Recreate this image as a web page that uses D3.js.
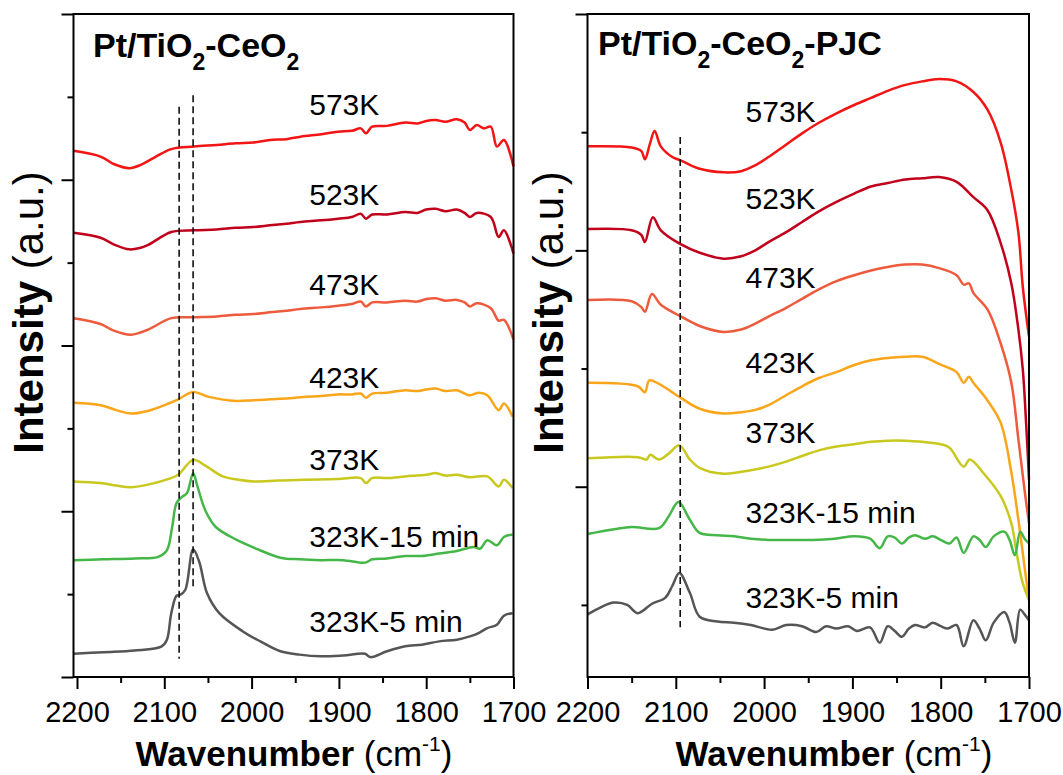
<!DOCTYPE html>
<html>
<head>
<meta charset="utf-8">
<script src="https://cdn.jsdelivr.net/npm/d3@7"></script>
<style>
  html, body { margin: 0; padding: 0; background: #fff; }
  svg { display: block; font-family: "Liberation Sans", Arial, sans-serif; }
</style>
</head>
<body>
<svg id="chart" width="1063" height="775"></svg>
<script>
// ---- Axis ticks -------------------------------------------------------
const wavenumberTicks = [2200, 2100, 2000, 1900, 1800, 1700];
const wavenumberMinorTicks = [2150, 2050, 1950, 1850, 1750];

// ---- Series -----------------------------------------------------------
const seriesNames = ["573K", "523K", "473K", "423K", "373K", "323K-15 min", "323K-5 min"];
const seriesColors = ["#f31414", "#c1001c", "#ee5a3c", "#fba51a", "#c8c81e", "#45b749", "#555555"];

// Pt/TiO2-CeO2 : [wavenumber (cm-1), intensity (a.u., stacked)]
const ptTiCe573 = [[2204,6.35],[2173,6.28],[2158,6.19],[2140,6.14],[2127,6.18],[2111,6.27],[2092,6.37],[2066,6.40],[2040,6.42],[2018,6.44],[1998,6.45],[1979,6.48],[1960,6.49],[1944,6.52],[1920,6.55],[1901,6.58],[1885,6.59],[1875,6.62],[1869,6.56],[1862,6.64],[1845,6.65],[1824,6.69],[1810,6.68],[1800,6.71],[1789,6.72],[1778,6.70],[1765,6.73],[1756,6.69],[1750,6.60],[1742,6.66],[1734,6.62],[1726,6.64],[1719,6.40],[1711,6.48],[1700,6.16]];
const ptTiCe523 = [[2204,5.36],[2173,5.30],[2158,5.22],[2140,5.16],[2127,5.18],[2119,5.21],[2092,5.37],[2066,5.39],[2040,5.40],[2018,5.42],[1998,5.43],[1979,5.45],[1960,5.47],[1944,5.49],[1920,5.51],[1901,5.53],[1885,5.55],[1875,5.59],[1869,5.53],[1862,5.58],[1845,5.58],[1824,5.61],[1810,5.60],[1800,5.64],[1789,5.65],[1778,5.62],[1765,5.64],[1756,5.60],[1750,5.55],[1742,5.60],[1726,5.55],[1717,5.31],[1711,5.39],[1700,5.11]];
const ptTiCe473 = [[2204,4.33],[2173,4.26],[2158,4.18],[2138,4.13],[2119,4.19],[2092,4.33],[2066,4.34],[2040,4.35],[2018,4.37],[1998,4.38],[1979,4.40],[1960,4.42],[1944,4.44],[1920,4.46],[1901,4.48],[1885,4.50],[1875,4.53],[1869,4.47],[1862,4.52],[1845,4.52],[1824,4.54],[1810,4.53],[1800,4.56],[1789,4.57],[1778,4.54],[1765,4.55],[1756,4.52],[1750,4.47],[1742,4.51],[1726,4.45],[1717,4.30],[1711,4.31],[1700,4.07]];
const ptTiCe423 = [[2204,3.31],[2173,3.28],[2155,3.22],[2138,3.18],[2119,3.21],[2095,3.30],[2084,3.35],[2067,3.44],[2049,3.38],[2018,3.33],[1998,3.34],[1979,3.35],[1960,3.36],[1940,3.38],[1920,3.39],[1901,3.41],[1885,3.41],[1875,3.42],[1869,3.37],[1862,3.42],[1845,3.43],[1824,3.46],[1810,3.45],[1800,3.47],[1789,3.48],[1778,3.45],[1765,3.46],[1750,3.40],[1740,3.43],[1730,3.40],[1717,3.22],[1711,3.30],[1701,3.14]];
const ptTiCe373 = [[2204,2.36],[2173,2.34],[2155,2.31],[2138,2.29],[2111,2.34],[2095,2.39],[2084,2.44],[2067,2.62],[2053,2.55],[2033,2.42],[2015,2.38],[1998,2.36],[1970,2.37],[1940,2.38],[1901,2.39],[1875,2.40],[1869,2.34],[1862,2.40],[1845,2.40],[1824,2.42],[1800,2.44],[1789,2.46],[1778,2.43],[1765,2.44],[1750,2.41],[1730,2.42],[1717,2.30],[1711,2.38],[1701,2.28]];
const ptTiCe323m15 = [[2204,1.41],[2170,1.42],[2134,1.43],[2107,1.45],[2097,1.53],[2091,1.81],[2086,2.10],[2080,2.17],[2074,2.22],[2067,2.46],[2062,2.30],[2053,2.01],[2041,1.81],[2018,1.66],[1995,1.55],[1967,1.44],[1945,1.42],[1921,1.41],[1895,1.41],[1870,1.38],[1862,1.42],[1845,1.43],[1824,1.46],[1805,1.46],[1785,1.49],[1765,1.52],[1746,1.57],[1738,1.55],[1730,1.65],[1719,1.59],[1711,1.69],[1701,1.72]];
const ptTiCe323m5 = [[2204,0.28],[2170,0.30],[2134,0.32],[2103,0.37],[2097,0.45],[2092,0.77],[2086,0.98],[2082,0.99],[2076,1.05],[2067,1.54],[2060,1.39],[2051,1.01],[2037,0.77],[2010,0.55],[1990,0.43],[1967,0.31],[1945,0.27],[1921,0.25],[1895,0.26],[1870,0.28],[1864,0.24],[1845,0.31],[1824,0.37],[1805,0.39],[1785,0.43],[1765,0.45],[1750,0.49],[1740,0.53],[1730,0.59],[1719,0.63],[1711,0.74],[1701,0.77]];

// Pt/TiO2-CeO2-PJC : [wavenumber (cm-1), intensity (a.u., stacked)]
const pjc573 = [[2200,3.88],[2150,3.87],[2139,3.84],[2135,3.77],[2129,3.91],[2124,4.01],[2117,3.88],[2104,3.79],[2094,3.76],[2073,3.69],[2046,3.66],[2026,3.67],[2010,3.72],[1995,3.79],[1976,3.89],[1957,3.99],[1938,4.08],[1918,4.16],[1898,4.23],[1879,4.29],[1860,4.35],[1840,4.40],[1821,4.43],[1802,4.45],[1782,4.43],[1763,4.34],[1747,4.19],[1732,3.91],[1720,3.51],[1712,3.15],[1707,2.69],[1700,2.27]];
const pjc523 = [[2200,3.18],[2150,3.17],[2139,3.13],[2135,3.07],[2126,3.28],[2117,3.17],[2094,3.05],[2073,2.98],[2046,2.93],[2026,2.95],[2010,3.00],[1995,3.07],[1976,3.15],[1957,3.24],[1938,3.33],[1918,3.41],[1898,3.48],[1879,3.54],[1860,3.57],[1840,3.60],[1821,3.61],[1802,3.62],[1782,3.58],[1763,3.45],[1747,3.34],[1732,3.06],[1720,2.72],[1712,2.33],[1707,1.99],[1703,1.50],[1700,1.06]];
const pjc473 = [[2200,2.58],[2150,2.57],[2139,2.52],[2135,2.48],[2127,2.63],[2117,2.54],[2094,2.44],[2073,2.36],[2046,2.31],[2026,2.33],[2010,2.38],[1995,2.44],[1976,2.51],[1957,2.59],[1938,2.67],[1918,2.74],[1898,2.79],[1879,2.83],[1860,2.86],[1840,2.88],[1821,2.88],[1802,2.85],[1782,2.79],[1774,2.71],[1768,2.72],[1763,2.64],[1747,2.50],[1732,2.21],[1720,1.88],[1712,1.40],[1705,0.97],[1700,0.69]];
const pjc423 = [[2200,1.88],[2143,1.85],[2135,1.80],[2130,1.90],[2119,1.87],[2094,1.75],[2073,1.66],[2046,1.62],[2026,1.63],[2010,1.65],[1995,1.69],[1976,1.77],[1957,1.85],[1938,1.92],[1918,1.97],[1898,2.03],[1879,2.07],[1860,2.09],[1840,2.10],[1821,2.10],[1802,2.04],[1782,1.97],[1774,1.88],[1768,1.93],[1763,1.88],[1747,1.73],[1732,1.54],[1720,1.12],[1712,0.72],[1705,0.32],[1700,0.04]];
const pjc373 = [[2200,1.24],[2143,1.25],[2133,1.23],[2129,1.27],[2119,1.23],[2108,1.28],[2096,1.35],[2084,1.23],[2073,1.16],[2046,1.11],[2015,1.14],[1995,1.17],[1976,1.21],[1957,1.26],[1937,1.31],[1918,1.34],[1898,1.36],[1879,1.38],[1860,1.39],[1840,1.39],[1821,1.38],[1800,1.36],[1790,1.33],[1774,1.17],[1767,1.23],[1751,1.11],[1732,0.92],[1720,0.69],[1714,0.44],[1708,0.21],[1700,0.04]];
const pjc323m15 = [[2200,0.60],[2170,0.64],[2150,0.66],[2119,0.65],[2108,0.75],[2097,0.87],[2084,0.72],[2073,0.61],[2053,0.59],[2034,0.58],[2015,0.56],[1995,0.55],[1970,0.55],[1945,0.55],[1920,0.56],[1898,0.58],[1880,0.56],[1869,0.48],[1860,0.58],[1852,0.57],[1844,0.52],[1836,0.57],[1829,0.59],[1818,0.56],[1809,0.58],[1800,0.55],[1790,0.52],[1782,0.57],[1774,0.44],[1763,0.58],[1756,0.55],[1749,0.49],[1740,0.58],[1728,0.62],[1722,0.55],[1716,0.42],[1710,0.62],[1705,0.56],[1700,0.52]];
const pjc323m5 = [[2200,-0.08],[2185,-0.02],[2170,0.02],[2155,0.00],[2143,-0.07],[2127,0.01],[2112,0.06],[2104,0.16],[2096,0.27],[2084,0.10],[2073,-0.10],[2053,-0.14],[2034,-0.15],[2015,-0.17],[1991,-0.21],[1975,-0.17],[1957,-0.18],[1941,-0.23],[1930,-0.18],[1918,-0.20],[1905,-0.18],[1895,-0.22],[1880,-0.19],[1869,-0.32],[1860,-0.18],[1852,-0.22],[1844,-0.27],[1836,-0.20],[1829,-0.17],[1818,-0.19],[1809,-0.15],[1800,-0.18],[1792,-0.20],[1782,-0.17],[1774,-0.35],[1763,-0.13],[1756,-0.20],[1749,-0.30],[1740,-0.15],[1728,-0.06],[1722,-0.15],[1716,-0.32],[1710,-0.04],[1705,-0.08],[1700,-0.13]];

// Reference lines for the CO bands: [wavenumber, top, bottom]
const ptTiCeBandLines = [[2083, 6.88, 0.22], [2067, 7.02, 1.09]];
const pjcBandLines = [[2095, 3.96, -0.19]];

// ---- Layout -------------------------------------------------------------
const svg = d3.select("#chart");
const FONT = '"Liberation Sans", Arial, sans-serif';

const panels = [
  {
    frame: { left: 73.5, right: 513.5, top: 14, bottom: 677 },
    xDomain: [2204, 1700],
    yDomain: [0, 8],
    majorY: [0, 2, 4, 6, 8],
    minorY: [1, 3, 5, 7],
    series: [ptTiCe573, ptTiCe523, ptTiCe473, ptTiCe423, ptTiCe373, ptTiCe323m15, ptTiCe323m5],
    bandLines: ptTiCeBandLines,
    titleParts: [["Pt/TiO", false], ["2", true], ["-CeO", false], ["2", true]],
    titlePos: [93, 57],
    labelX: 1934,
    labelY: [6.78, 5.69, 4.61, 3.49, 2.50, 1.57, 0.54],
    yTitleX: 43,
    xTitleCenter: 294
  },
  {
    frame: { left: 587.5, right: 1029, top: 14, bottom: 677 },
    xDomain: [2200, 1700],
    yDomain: [-0.61, 5],
    majorY: [1, 3, 5],
    minorY: [0, 2, 4],
    series: [pjc573, pjc523, pjc473, pjc423, pjc373, pjc323m15, pjc323m5],
    bandLines: pjcBandLines,
    titleParts: [["Pt/TiO", false], ["2", true], ["-CeO", false], ["2", true], ["-PJC", false]],
    titlePos: [598, 55],
    labelX: 2021,
    labelY: [4.09, 3.35, 2.68, 1.96, 1.37, 0.69, -0.03],
    yTitleX: 563,
    xTitleCenter: 834
  }
];

panels.forEach(p => {
  const f = p.frame;
  const x = d3.scaleLinear().domain(p.xDomain).range([f.left, f.right]);
  const y = d3.scaleLinear().domain(p.yDomain).range([f.bottom, f.top]);
  const g = svg.append("g");

  // spectra
  const line = d3.line()
    .x(d => x(d[0]))
    .y(d => y(d[1]))
    .curve(d3.curveCatmullRom.alpha(0.5));

  p.series.forEach((s, i) => {
    g.append("path")
      .datum(s)
      .attr("d", line)
      .attr("fill", "none")
      .attr("stroke", seriesColors[i])
      .attr("stroke-width", 2.5)
      .attr("stroke-linejoin", "round");
  });

  // dashed band markers
  p.bandLines.forEach(b => {
    g.append("line")
      .attr("x1", x(b[0])).attr("x2", x(b[0]))
      .attr("y1", y(b[1])).attr("y2", y(b[2]))
      .attr("stroke", "#111")
      .attr("stroke-width", 1.6)
      .attr("stroke-dasharray", "7,4");
  });

  // frame
  g.append("rect")
    .attr("x", f.left).attr("y", f.top)
    .attr("width", f.right - f.left).attr("height", f.bottom - f.top)
    .attr("fill", "none")
    .attr("stroke", "#000")
    .attr("stroke-width", 2);

  // bottom axis: major ticks with labels, minor ticks
  const xMajor = d3.axisBottom(x).tickValues(wavenumberTicks).tickSize(12).tickPadding(12).tickFormat(d3.format("d"));
  const xMinor = d3.axisBottom(x).tickValues(wavenumberMinorTicks).tickSize(6).tickFormat("");
  const gx = g.append("g").attr("transform", `translate(0,${f.bottom})`).call(xMajor);
  g.append("g").attr("transform", `translate(0,${f.bottom})`).call(xMinor)
    .call(a => a.select(".domain").remove());
  gx.select(".domain").remove();
  gx.selectAll(".tick text")
    .attr("font-family", FONT)
    .attr("font-size", 29)
    .attr("fill", "#000");

  // left axis: major / minor ticks, no labels
  const yMajor = d3.axisLeft(y).tickValues(p.majorY).tickSize(12).tickFormat("");
  const yMinor = d3.axisLeft(y).tickValues(p.minorY).tickSize(6).tickFormat("");
  g.append("g").attr("transform", `translate(${f.left},0)`).call(yMajor).call(a => a.select(".domain").remove());
  g.append("g").attr("transform", `translate(${f.left},0)`).call(yMinor).call(a => a.select(".domain").remove());
  g.selectAll(".tick line").attr("stroke", "#000").attr("stroke-width", 2);

  // series labels
  seriesNames.forEach((name, i) => {
    g.append("text")
      .attr("x", x(p.labelX))
      .attr("y", y(p.labelY[i]))
      .attr("font-family", FONT)
      .attr("font-size", 30)
      .attr("fill", "#000")
      .text(name);
  });

  // panel title with subscripts
  const title = g.append("text")
    .attr("x", p.titlePos[0]).attr("y", p.titlePos[1])
    .attr("font-family", FONT)
    .attr("font-weight", "bold")
    .attr("font-size", 34)
    .attr("fill", "#000");
  let lowered = false;
  p.titleParts.forEach(([txt, sub]) => {
    const t = title.append("tspan").text(txt);
    if (sub && !lowered) { t.attr("dy", 13).attr("font-size", 23); lowered = true; }
    else if (!sub && lowered) { t.attr("dy", -13); lowered = false; }
  });

  // y axis title
  const yt = g.append("text")
    .attr("transform", `translate(${p.yTitleX},${(f.top + f.bottom) / 2 - 33}) rotate(-90)`)
    .attr("text-anchor", "middle")
    .attr("font-family", FONT)
    .attr("font-size", 42)
    .attr("fill", "#000");
  yt.append("tspan").attr("font-weight", "bold").text("Intensity");
  yt.append("tspan").text(" (a.u.)");

  // x axis title
  const xt = g.append("text")
    .attr("x", p.xTitleCenter).attr("y", 766)
    .attr("text-anchor", "middle")
    .attr("font-family", FONT)
    .attr("font-size", 35)
    .attr("fill", "#000");
  xt.append("tspan").attr("font-weight", "bold").text("Wavenumber");
  xt.append("tspan").text(" (cm");
  xt.append("tspan").attr("font-size", 21).attr("dy", -15).text("-1");
  xt.append("tspan").attr("dy", 15).text(")");
});
</script>
</body>
</html>
